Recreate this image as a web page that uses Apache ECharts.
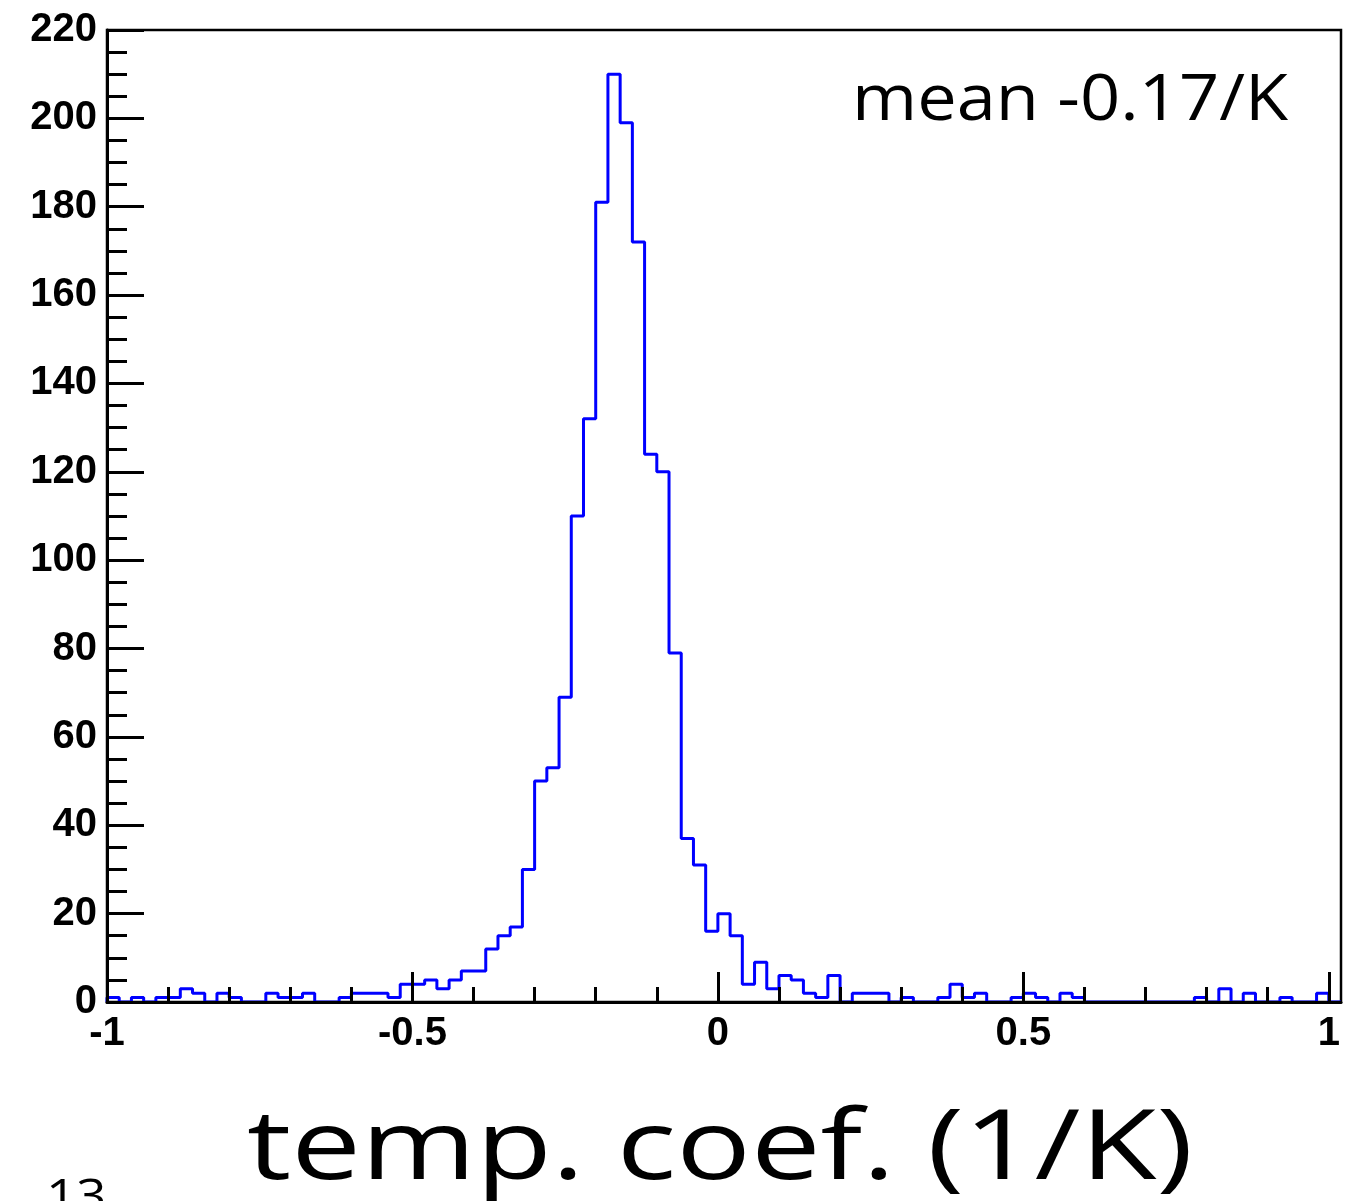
<!DOCTYPE html>
<html><head><meta charset="utf-8">
<script src="https://cdn.jsdelivr.net/npm/echarts@6/dist/echarts.min.js"></script>
<style>html,body{margin:0;padding:0;background:#fff}#c{width:1356px;height:1201px}</style>
</head><body><div id="c"></div>
<script>
// Histogram: bins of width 0.02 starting at -1
const binStart = -1;
const binWidth = 0.02;
const binCounts = [
  1, 0, 1, 0, 1, 1, 3, 2, 0, 2,
  1, 0, 0, 2, 1, 1, 2, 0, 0, 1,
  2, 2, 2, 1, 4, 4, 5, 3, 5, 7,
  7, 12, 15, 17, 30, 50, 53, 69, 110, 132,
  181, 210, 199, 172, 124, 120, 79, 37, 31, 16,
  20, 15, 4, 9, 3, 6, 5, 2, 1, 6,
  0, 2, 2, 2, 0, 1, 0, 0, 1, 4,
  1, 2, 0, 0, 1, 2, 1, 0, 2, 1,
  0, 0, 0, 0, 0, 0, 0, 0, 0, 1,
  0, 3, 0, 2, 0, 0, 1, 0, 0, 2,
  0
];
const xMajorTicks = [-1, -0.5, 0, 0.5, 1];
const xMinorTicks = [-0.9, -0.8, -0.7, -0.6, -0.4, -0.3, -0.2, -0.1, 0.1, 0.2, 0.3, 0.4, 0.6, 0.7, 0.8, 0.9];
const yMin = 0, yMax = 220, yStep = 20;
const xTitle = 'temp. coef. (1/K)';
const meanLabel = 'mean -0.17/K';
const pageNumber = '13';

const r4 = v => Math.round(v * 10000) / 10000;
const xEnd = r4(binStart + binCounts.length * binWidth);
const stepData = [[binStart, 0]];
binCounts.forEach((v, i) => stepData.push([r4(binStart + i * binWidth), v]));
stepData.push([xEnd, binCounts[binCounts.length - 1]]);
stepData.push([xEnd, 0]);

const chart = echarts.init(document.getElementById('c'), null, {renderer: 'canvas'});
const labelFont = {fontFamily: 'Liberation Sans', fontWeight: 'bold', fontSize: 40, color: '#000'};
chart.setOption({
  animation: false,
  backgroundColor: '#fff',
  grid: {left: 107, top: 30, width: 1234, height: 972, show: true, borderColor: '#000', borderWidth: 2.5, backgroundColor: 'transparent'},
  xAxis: [{
    type: 'value', min: binStart, max: xEnd, position: 'bottom', z: 10,
    splitLine: {show: false},
    axisLine: {show: true, onZero: false, lineStyle: {color: '#000', width: 3}},
    axisTick: {show: true, inside: true, length: 30, customValues: xMajorTicks, lineStyle: {color: '#000', width: 3}},
    axisLabel: Object.assign({show: true, margin: 12, customValues: xMajorTicks, formatter: v => String(v)}, labelFont)
  }, {
    type: 'value', min: binStart, max: xEnd, position: 'bottom', z: 10,
    splitLine: {show: false},
    axisLine: {show: false},
    axisTick: {show: true, inside: true, length: 15, customValues: xMinorTicks, lineStyle: {color: '#000', width: 3}},
    axisLabel: {show: false}
  }],
  yAxis: {
    type: 'value', min: yMin, max: yMax, interval: yStep, z: 10,
    splitLine: {show: false},
    axisLine: {show: true, onZero: false, lineStyle: {color: '#000', width: 3}},
    axisTick: {show: true, inside: true, length: 37, lineStyle: {color: '#000', width: 3}},
    minorTick: {show: true, splitNumber: 4, length: 20, lineStyle: {color: '#000', width: 3}},
    axisLabel: Object.assign({margin: 10}, labelFont)
  },
  series: [{
    type: 'line', step: 'end', data: stepData, xAxisIndex: 0, z: 1,
    symbol: 'none', showSymbol: false,
    lineStyle: {color: '#0000ff', width: 3},
    clip: false
  }],
  graphic: [
    {type: 'text', z: 20, x: 852, y: 70, scaleX: 1.1, style: {text: meanLabel, x: 0, y: 0, textAlign: 'left', textVerticalAlign: 'top', font: '64px "Open Sans"', fill: '#000'}},
    {type: 'text', z: 20, x: 720, y: 1103, scaleX: 1.28, style: {text: xTitle, x: 0, y: 0, textAlign: 'center', textVerticalAlign: 'top', font: '97px "Open Sans"', fill: '#000'}},
    {type: 'text', z: 20, x: 46, y: 1176, scaleX: 1.15, style: {text: pageNumber, x: 0, y: 0, textAlign: 'left', textVerticalAlign: 'top', font: '46px "Open Sans"', fill: '#000'}}
  ]
});
</script></body></html>
